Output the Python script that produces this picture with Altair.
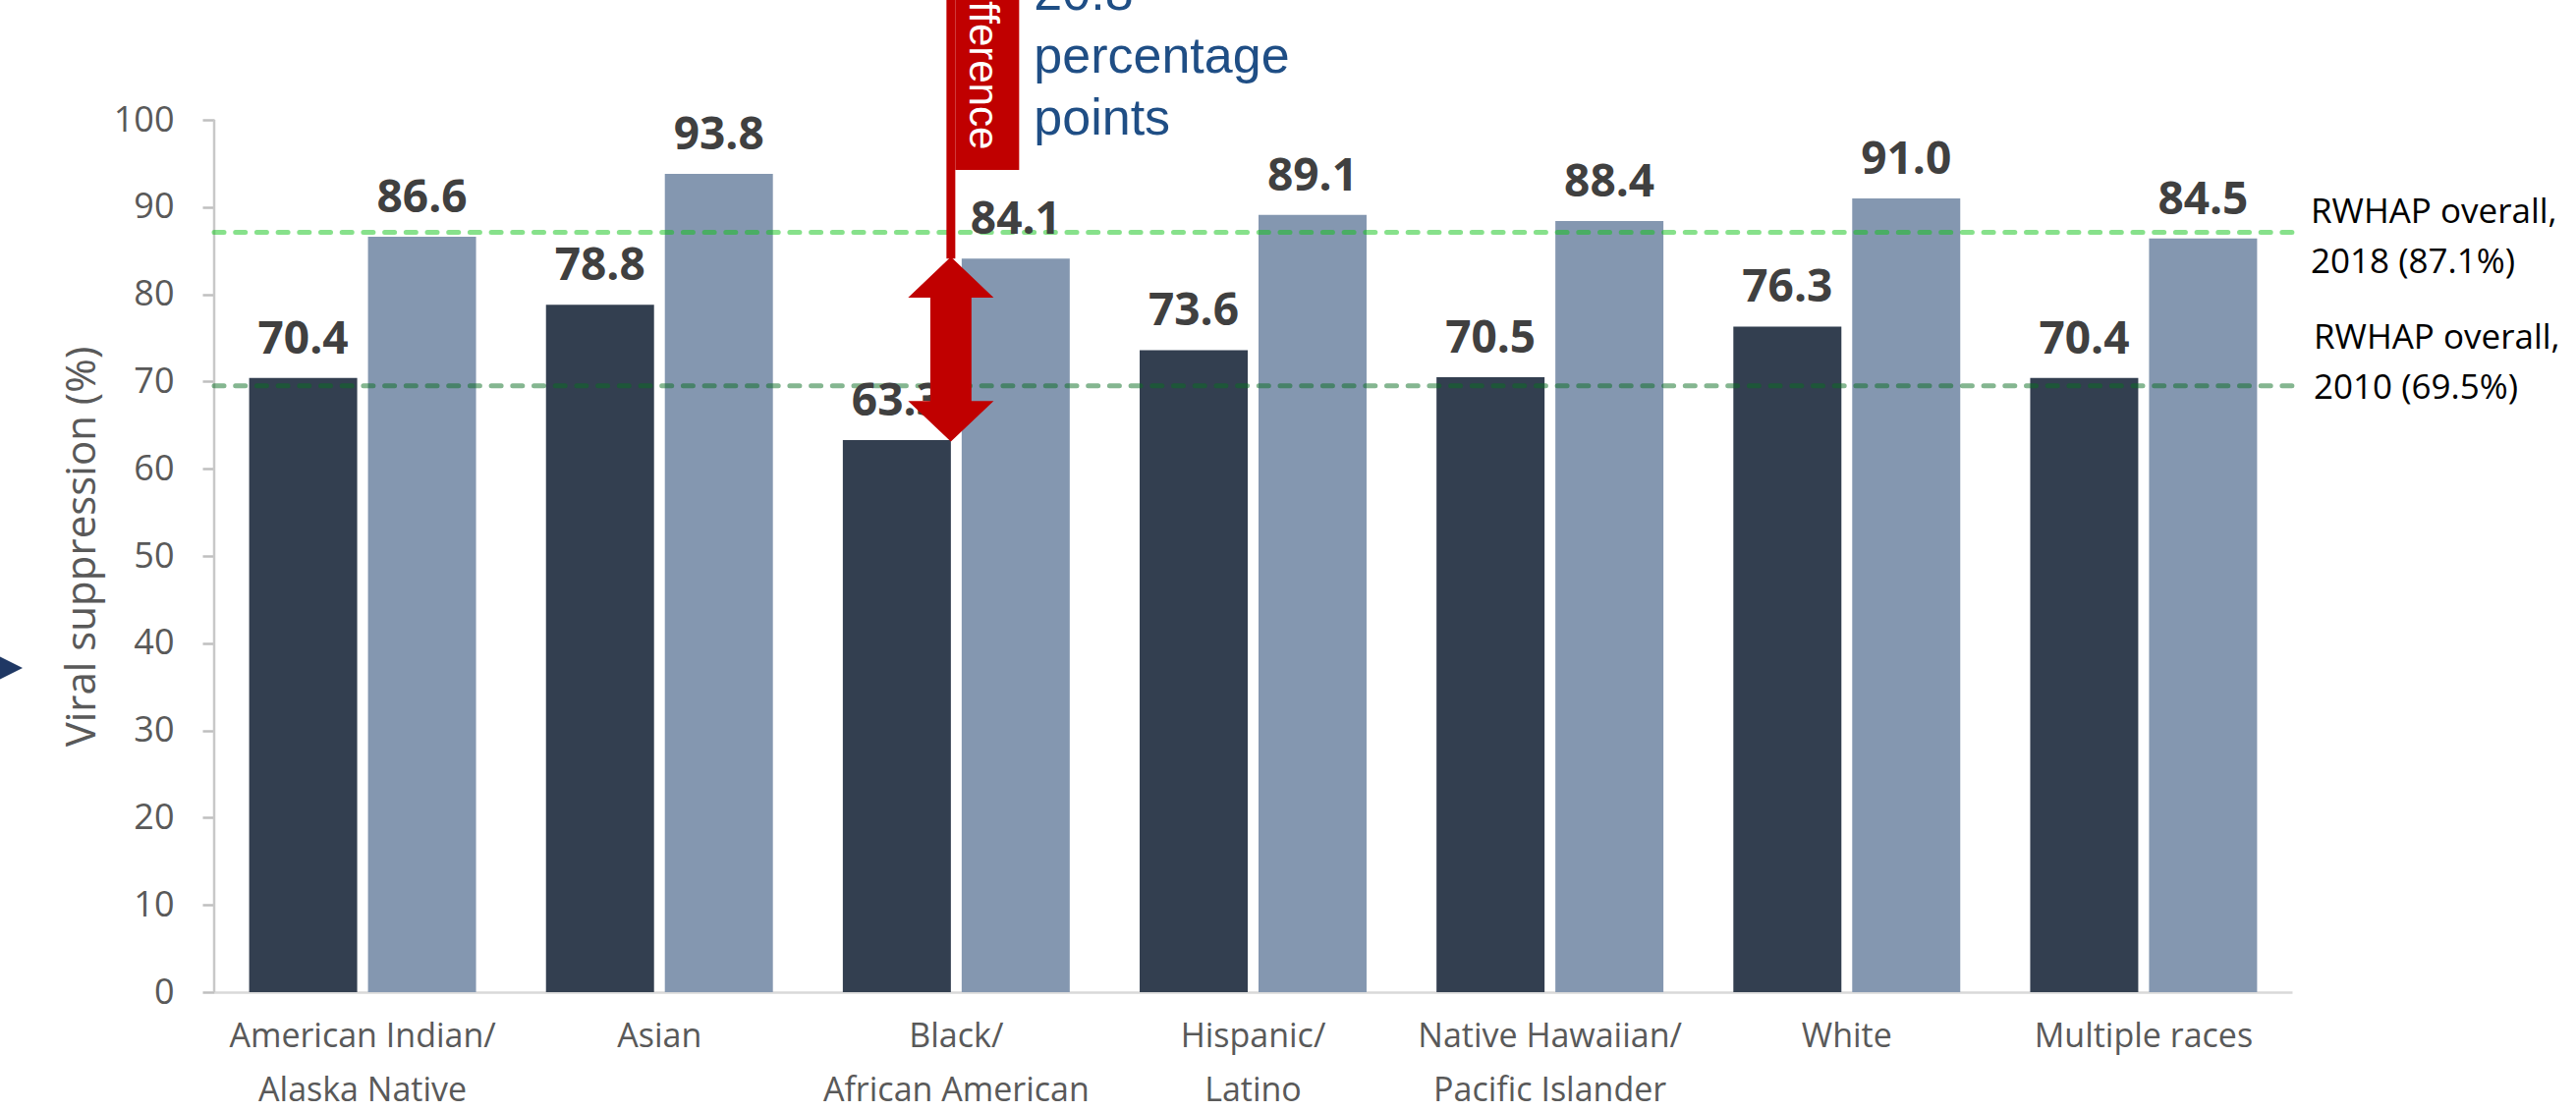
import altair as alt
import pandas as pd

# ---------------- data ----------------
categories = [
    "American Indian/\nAlaska Native",
    "Asian",
    "Black/\nAfrican American",
    "Hispanic/\nLatino",
    "Native Hawaiian/\nPacific Islander",
    "White",
    "Multiple races",
]
years = ["2010", "2018"]
values_2010 = [70.4, 78.8, 63.3, 73.6, 70.5, 76.3, 70.4]
values_2018 = [86.6, 93.8, 84.1, 89.1, 88.4, 91.0, 86.4]
labels_2010 = ["70.4", "78.8", "63.3", "73.6", "70.5", "76.3", "70.4"]
labels_2018 = ["86.6", "93.8", "84.1", "89.1", "88.4", "91.0", "84.5"]
ref_values = [87.1, 69.5]
ref_labels = ["RWHAP overall,\n2018 (87.1%)", "RWHAP overall,\n2010 (69.5%)"]
y_ticks = [0, 10, 20, 30, 40, 50, 60, 70, 80, 90, 100]
highlight = "Black/\nAfrican American"
diff_text = "Difference"
diff_unit = ["percentage", "points"]

# ---------------- layout constants ----------------
W, H = 2115, 1010
YMAX = 113.74
FONT = "Open Sans"

rows = []
for c, v0, v1, l0, l1 in zip(categories, values_2010, values_2018, labels_2010, labels_2018):
    rows.append({"category": c, "year": "2010", "value": v0, "label": l0})
    rows.append({"category": c, "year": "2018", "value": v1, "label": l1})
bars_df = pd.DataFrame(rows)

hi_idx = categories.index(highlight)
lo, hi = values_2010[hi_idx], values_2018[hi_idx]
gap = f"{hi - lo:.1f}"

x_enc = alt.X(
    "category:N",
    sort=categories,
    scale=alt.Scale(paddingInner=0.2356, paddingOuter=0.1178),
    axis=alt.Axis(
        title=None,
        labelExpr="split(datum.label, '\\n')",
        labelAngle=0,
        labelFont=FONT,
        labelFontSize=34,
        labelColor="#595959",
        labelLineHeight=55,
        labelBaseline="alphabetic",
        labelPadding=55,
        labelLimit=0,
        labelOverlap=False,
        ticks=False,
        tickSize=0,
        domainColor="#D9D9D9",
        domainWidth=2.5,
    ),
)
xoff_enc = alt.XOffset(
    "year:N", sort=years, scale=alt.Scale(paddingInner=0.0909, paddingOuter=0)
)
y_enc = alt.Y(
    "value:Q",
    scale=alt.Scale(domain=[0, YMAX], nice=False, zero=True),
    axis=alt.Axis(
        values=y_ticks,
        title="Viral suppression (%)",
        domain=False,
        grid=False,
        tickSize=12,
        tickColor="#BFBFBF",
        tickWidth=2.5,
        labelFont=FONT,
        labelFontSize=36,
        labelColor="#595959",
        labelPadding=29,
        titleFont=FONT,
        titleFontSize=42,
        titleFontWeight="normal",
        titleColor="#595959",
        titleAngle=270,
        titleX=-135,
        titleY=556,
        titleBaseline="middle",
        titleAlign="center",
    ),
)
color_enc = alt.Color(
    "year:N",
    scale=alt.Scale(domain=years, range=["#333F50", "#8497B0"]),
    legend=None,
)

bars = alt.Chart(bars_df).mark_bar().encode(
    x=x_enc, xOffset=xoff_enc, y=y_enc, color=color_enc
)

axis_line_df = pd.DataFrame({"value": [0], "value2": [max(y_ticks)]})
y_axis_line = alt.Chart(axis_line_df).mark_rule(
    color="#C8C8C8", strokeWidth=2.5
).encode(x=alt.value(0), y=y_enc, y2="value2:Q")

ref_colors = ["#10C418", "#0A6E22"]
ref_layers = []
text_dy = [-10, -38]
text_dx = [2134, 2137]
for v, lab, col, dy, dx in zip(ref_values, ref_labels, ref_colors, text_dy, text_dx):
    d = pd.DataFrame({"value": [v], "label": [lab]})
    ref_layers.append(
        alt.Chart(d).mark_rule(
            color=col, opacity=0.5, strokeWidth=5, strokeDash=[10, 11.7], strokeCap="round"
        ).encode(y=y_enc, x=alt.value(0), x2=alt.value(W))
    )
    ref_layers.append(
        alt.Chart(d).mark_text(
            font=FONT, fontSize=35, color="#000000", align="left",
            baseline="alphabetic", lineBreak="\n", lineHeight=51, dy=dy
        ).encode(y=y_enc, x=alt.value(dx), text="label:N")
    )

labels = alt.Chart(bars_df).mark_text(
    font=FONT, fontWeight="bold", fontSize=46, color="#404040",
    align="center", baseline="alphabetic", dy=-25
).encode(x=x_enc, xOffset=xoff_enc, y=y_enc, text="label:N")

ann_df = pd.DataFrame({"category": [highlight], "value": [hi], "mid": [(hi + lo) / 2]})

red_line = alt.Chart(ann_df).mark_rule(
    color="#C00000", strokeWidth=9, xOffset=-5.5
).encode(x=x_enc, y=y_enc, y2=alt.value(-5))

red_box = alt.Chart(ann_df).mark_rule(
    color="#C00000", strokeWidth=65, xOffset=31.5
).encode(x=x_enc, y=alt.value(-20), y2=alt.value(173))

diff_label = alt.Chart(ann_df).mark_text(
    text=diff_text, angle=90, align="center", baseline="alphabetic",
    font="Liberation Sans", fontSize=42, color="white", xOffset=14
).encode(x=x_enc, y=alt.value(57))

arrow_path = (
    "M 0 -1 L 0.463 -0.56 L 0.223 -0.56 L 0.223 0.56 L 0.463 0.56 "
    "L 0 1 L -0.463 0.56 L -0.223 0.56 L -0.223 -0.56 L -0.463 -0.56 Z"
)
mid_df = pd.DataFrame({"category": [highlight], "value": [(hi + lo) / 2]})
arrow = alt.Chart(mid_df).mark_point(
    shape=arrow_path, size=188 * 188, filled=True, color="#C00000",
    opacity=1, strokeWidth=0, xOffset=-5.5
).encode(x=x_enc, y=y_enc)

blue_text = alt.Chart(ann_df).mark_text(
    text="\n".join([gap] + diff_unit), lineBreak="\n", align="left",
    baseline="alphabetic", font="Liberation Sans", fontSize=52,
    lineHeight=63.5, color="#1F4E85", xOffset=79
).encode(x=x_enc, y=alt.value(10))

tri_df = pd.DataFrame({"k": [0]})
triangle = alt.Chart(tri_df).mark_point(
    shape="M -1 -1 L 1 0 L -1 1 Z", size=625, filled=True,
    color="#1F3864", opacity=1, strokeWidth=0
).encode(x=alt.value(-207.5), y=alt.value(680))

chart = alt.layer(
    bars, y_axis_line, *ref_layers, labels,
    red_line, red_box, diff_label, arrow, blue_text, triangle
).properties(
    width=W,
    height=H,
    autosize=alt.AutoSizeParams(type="none"),
    padding={"left": 218, "top": 0, "right": 289, "bottom": 121},
).configure_view(strokeWidth=0)

chart.save("out.html", embed_options={"renderer": "svg", "actions": False})
